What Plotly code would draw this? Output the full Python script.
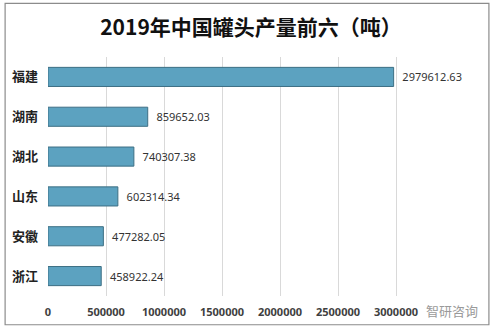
import plotly.graph_objects as go

provinces = ["福建", "湖南", "湖北", "山东", "安徽", "浙江"]
output_tons = [2979612.63, 859652.03, 740307.38, 602314.34, 477282.05, 458922.24]
tick_values = [0, 500000, 1000000, 1500000, 2000000, 2500000, 3000000, 3500000]
tick_labels = ["0", "500000", "1000000", "1500000", "2000000", "2500000", "3000000", ""]
title_text = "2019年中国罐头产量前六（吨）"
watermark = "智研咨询"

W, H = 492, 331
L, R, T, B = 47, 38, 57, 33
pw, ph = W - L - R, H - T - B

def px_x(x):
    return (x - L) / pw

def px_y(y):
    return (H - B - y) / ph

fig = go.Figure()
fig.add_trace(go.Bar(
    y=provinces,
    x=output_tons,
    orientation="h",
    width=0.48,
    marker=dict(color="#5ca2c0", line=dict(color="#3d6f84", width=1)),
    text=[f"  {v:.2f}" for v in output_tons],
    textposition="outside",
    textfont=dict(family="Noto Sans, Noto Sans CJK SC", size=11, color="#333333"),
    cliponaxis=False,
))

fig.update_layout(
    width=W, height=H,
    margin=dict(l=L, r=R, t=T, b=B, pad=0),
    paper_bgcolor="white",
    plot_bgcolor="white",
    showlegend=False,
    title=dict(
        text=f"<b>{title_text}</b>",
        x=0.5, xref="paper", xanchor="center",
        y=1 - 28 / H, yref="container", yanchor="middle",
        font=dict(family="Noto Sans CJK SC", size=21, color="#111111"),
    ),
    xaxis=dict(
        range=[0, 3500000],
        tickvals=tick_values,
        ticktext=tick_labels,
        showgrid=True,
        gridcolor="#d9d9d9",
        gridwidth=1,
        zeroline=False,
        showline=False,
        ticks="",
        ticklabelstandoff=8,
        tickfont=dict(family="Noto Sans", size=11, color="#404040", weight="bold"),
    ),
    yaxis=dict(
        categoryorder="array",
        categoryarray=provinces[::-1],
        showgrid=False,
        zeroline=False,
        showline=False,
        ticks="",
        ticklabelstandoff=9,
        tickfont=dict(family="Noto Sans CJK SC", size=13, color="#222222", weight="bold"),
    ),
    shapes=[
        dict(type="rect", xref="paper", yref="paper",
             x0=px_x(4), x1=px_x(489), y0=px_y(327), y1=px_y(3),
             line=dict(color="#8c8c8c", width=1.2), fillcolor="rgba(0,0,0,0)"),
    ],
    annotations=[
        dict(text=watermark, xref="paper", yref="paper",
             x=px_x(452), y=px_y(313), xanchor="center", yanchor="middle",
             showarrow=False, borderpad=0,
             font=dict(family="Noto Sans CJK SC", size=13, color="#9a9a9a")),
    ],
)

fig.write_html("out.html")
